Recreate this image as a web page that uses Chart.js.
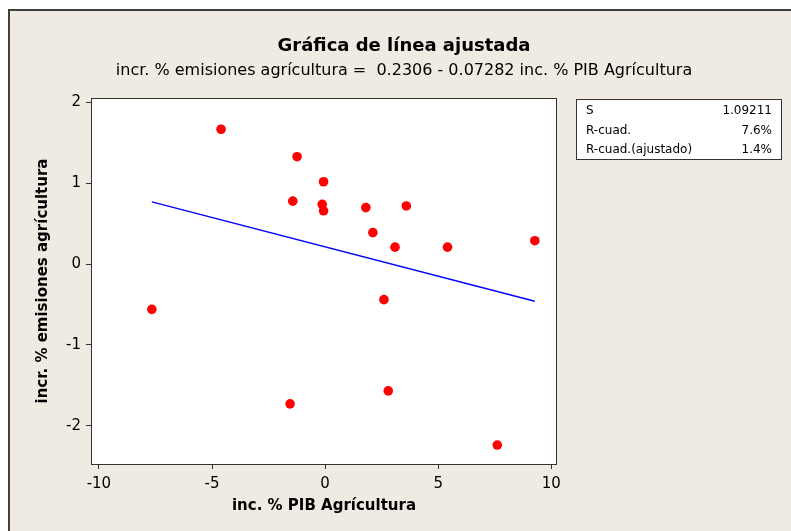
<!DOCTYPE html>
<html>
<head>
<meta charset="utf-8">
<script src="https://cdn.jsdelivr.net/npm/chart.js@4"></script>
<style>
  html, body { margin: 0; padding: 0; background: #ffffff; }
  #wrap { width: 791px; height: 531px; }
</style>
</head>
<body>
<div id="wrap"><canvas id="fitChart" width="791" height="531"></canvas></div>
<script>
// Values
const pibX = [-4.60, -1.24, -0.07, -1.43, -0.13, -0.07, 1.80, 3.59, 2.11, 3.09, 5.41, 9.27, -7.66, 2.60, -1.55, 2.79, 7.61];
const emisY = [1.67, 1.33, 1.02, 0.78, 0.74, 0.66, 0.70, 0.72, 0.39, 0.21, 0.21, 0.29, -0.56, -0.44, -1.73, -1.57, -2.24];
const fitX = [-7.66, 9.27];
const fitY = [0.77, -0.46];
const xTicks = [-10, -5, 0, 5, 10];
const yTicks = [-2, -1, 0, 1, 2];
const statLabels = ["S", "R-cuad.", "R-cuad.(ajustado)"];
const statValues = ["1.09211", "7.6%", "1.4%"];

const FONT = "Tahoma, 'DejaVu Sans', sans-serif";
const INK = "#000000";

const frame = {
  id: "frame",
  beforeDraw(chart) {
    const c = chart.ctx;
    const a = chart.chartArea;
    c.save();
    c.fillStyle = "#ffffff";
    c.fillRect(0, 0, chart.width, chart.height);
    c.fillStyle = "#efebe2";
    c.fillRect(9, 10, chart.width, chart.height);
    c.strokeStyle = "#404040";
    c.lineWidth = 2;
    c.beginPath();
    c.moveTo(9, chart.height);
    c.lineTo(9, 10);
    c.lineTo(chart.width, 10);
    c.stroke();
    c.fillStyle = "#ffffff";
    c.fillRect(a.left, a.top, a.right - a.left, a.bottom - a.top);
    c.restore();
  },
  afterDraw(chart) {
    const c = chart.ctx;
    const a = chart.chartArea;
    c.save();
    c.strokeStyle = "#333333";
    c.lineWidth = 1;
    c.strokeRect(a.left + 0.5, a.top + 0.5, a.right - a.left - 1, a.bottom - a.top);

    // titles
    c.fillStyle = INK;
    c.textAlign = "center";
    c.textBaseline = "middle";
    c.font = "bold 18px " + FONT;
    c.fillText("Gráfica de línea ajustada", 404, 46);
    c.font = "16px " + FONT;
    c.fillText("incr. % emisiones agrícultura =  0.2306 - 0.07282 inc. % PIB Agrícultura", 404, 71);

    // stats box
    c.fillStyle = "#ffffff";
    c.fillRect(576, 99, 206, 61);
    c.strokeStyle = "#333333";
    c.strokeRect(576.5, 99.5, 205, 60);
    c.fillStyle = INK;
    c.font = "12px " + FONT;
    statLabels.forEach((lab, i) => {
      const y = 111 + i * 19.5;
      c.textAlign = "left";
      c.fillText(lab, 586, y);
      c.textAlign = "right";
      c.fillText(statValues[i], 772, y);
    });
    c.restore();
  }
};

new Chart(document.getElementById("fitChart").getContext("2d"), {
  type: "scatter",
  data: {
    datasets: [
      {
        type: "line",
        label: "Ajuste",
        data: fitX.map((x, i) => ({ x: x, y: fitY[i] })),
        borderColor: "#0000ff",
        borderWidth: 1.4,
        pointRadius: 0,
        fill: false,
        order: 2
      },
      {
        label: "Datos",
        data: pibX.map((x, i) => ({ x: x, y: emisY[i] })),
        backgroundColor: "#ff0000",
        borderColor: "#ff0000",
        borderWidth: 0,
        pointRadius: 4.8,
        order: 1
      }
    ]
  },
  plugins: [frame],
  options: {
    responsive: false,
    animation: false,
    events: [],
    layout: { padding: { left: 20, top: 98, right: 234, bottom: 10 } },
    plugins: { legend: { display: false }, tooltip: { enabled: false } },
    scales: {
      x: {
        type: "linear",
        min: -10.35,
        max: 10.25,
        afterBuildTicks: s => { s.ticks = xTicks.map(v => ({ value: v })); },
        afterFit: s => { s.height = 57; },
        grid: { drawOnChartArea: false, tickLength: 5, color: "#333333" },
        border: { display: false },
        ticks: { color: INK, font: { family: FONT, size: 15 }, padding: 6 },
        title: {
          display: true,
          text: "inc. % PIB Agrícultura",
          color: INK,
          font: { family: FONT, size: 15, weight: "bold" },
          padding: { top: 0, bottom: 6 }
        }
      },
      y: {
        type: "linear",
        min: -2.475,
        max: 2.057,
        afterBuildTicks: s => { s.ticks = yTicks.map(v => ({ value: v })); },
        afterFit: s => { s.width = 71; },
        grid: { drawOnChartArea: false, tickLength: 5, color: "#333333" },
        border: { display: false },
        ticks: { color: INK, font: { family: FONT, size: 15 }, padding: 5 },
        title: {
          display: true,
          text: "incr. % emisiones agrícultura",
          color: INK,
          font: { family: FONT, size: 15, weight: "bold" },
          padding: { top: 14, bottom: 0 }
        }
      }
    }
  }
});
</script>
</body>
</html>
